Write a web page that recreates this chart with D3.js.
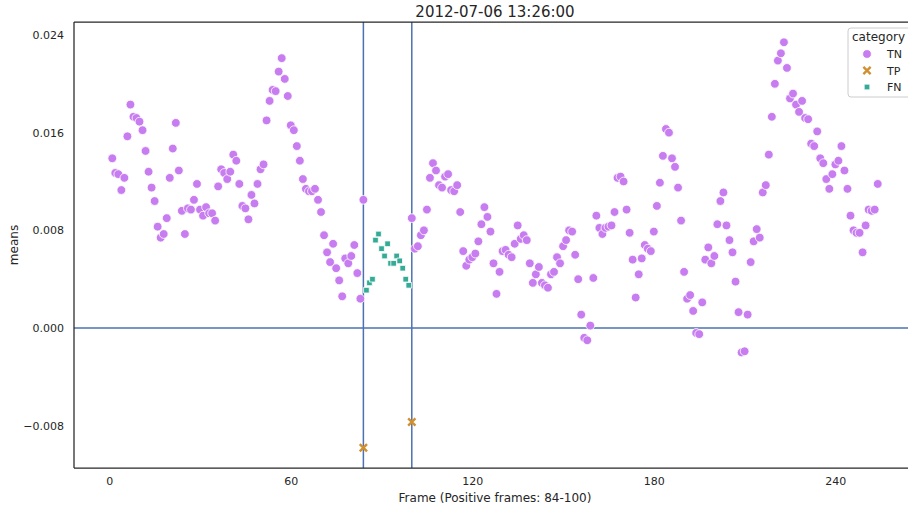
<!DOCTYPE html>
<html>
<head>
<meta charset="utf-8">
<script src="https://cdn.jsdelivr.net/npm/d3@7"></script>
<style>
  body { margin: 0; background: #fff; }
  text { font-family: "DejaVu Sans", sans-serif; fill: #262626; }
</style>
</head>
<body>
<div id="wrapper"></div>
<script>
// Chart data
const chartTitle = "2012-07-06 13:26:00";
const categories = ["TN", "TP", "FN"];
const positiveStart = 84;
const positiveEnd = 100;

// TN means, frames 1..84
const tnFirstFrames = 1;
const tnMeansA = [
  0.0139, 0.0127, 0.0126, 0.0113, 0.0123, 0.0157, 0.0183, 0.0173, 0.0172, 0.0169,
  0.0162, 0.0145, 0.0128, 0.0115, 0.0104, 0.0083, 0.0074, 0.0077, 0.0090, 0.0123,
  0.0147, 0.0168, 0.0129, 0.0096, 0.0077, 0.0098, 0.0097, 0.0105, 0.0118, 0.0097,
  0.0092, 0.0099, 0.0094, 0.0094, 0.0088, 0.0116, 0.0130, 0.0127, 0.0122, 0.0128,
  0.0142, 0.0137, 0.0118, 0.0100, 0.0098, 0.0089, 0.0109, 0.0102, 0.0118, 0.0130,
  0.0134, 0.0170, 0.0186, 0.0195, 0.0194, 0.0210, 0.0221, 0.0204, 0.0190, 0.0166,
  0.0162, 0.0149, 0.0137, 0.0122, 0.0114, 0.0112, 0.0112, 0.0114, 0.0105, 0.0095,
  0.0076, 0.0062, 0.0054, 0.0069, 0.0049, 0.0039, 0.0026, 0.0057, 0.0053, 0.0059,
  0.0068, 0.0045, 0.0024, 0.0105
];

// FN means, frames 85..99
const fnFirstFrame = 85;
const fnMeans = [
  0.0031, 0.0037, 0.0040, 0.0072, 0.0077, 0.0065, 0.0059, 0.0069, 0.0053, 0.0053,
  0.0059, 0.0055, 0.0049, 0.0040, 0.0035
];

// TN means, frames 100..254
const tnSecondFrames = 100;
const tnMeansB = [
  0.0090, 0.0065, 0.0067, 0.0076, 0.0080, 0.0097, 0.0123, 0.0135, 0.0129, 0.0117,
  0.0115, 0.0124, 0.0126, 0.0113, 0.0112, 0.0117, 0.0095, 0.0063, 0.0051, 0.0056,
  0.0058, 0.0061, 0.0071, 0.0085, 0.0099, 0.0091, 0.0079, 0.0053, 0.0028, 0.0046,
  0.0063, 0.0064, 0.0060, 0.0058, 0.0069, 0.0084, 0.0073, 0.0076, 0.0072, 0.0053,
  0.0037, 0.0044, 0.0050, 0.0037, 0.0035, 0.0033, 0.0044, 0.0046, 0.0058, 0.0053,
  0.0067, 0.0072, 0.0080, 0.0079, 0.0060, 0.0040, 0.0011, -0.0008, -0.0010, 0.0002,
  0.0041, 0.0092, 0.0082, 0.0077, 0.0082, 0.0083, 0.0084, 0.0095, 0.0123, 0.0124,
  0.0120, 0.0097, 0.0078, 0.0056, 0.0025, 0.0044, 0.0057, 0.0068, 0.0065, 0.0063,
  0.0079, 0.0100, 0.0119, 0.0141, 0.0163, 0.0160, 0.0139, 0.0132, 0.0115, 0.0088,
  0.0046, 0.0024, 0.0027, 0.0014, -0.0004, -0.0005, 0.0021, 0.0056, 0.0066, 0.0053,
  0.0059, 0.0085, 0.0104, 0.0111, 0.0084, 0.0072, 0.0062, 0.0038, 0.0013, -0.0020,
  -0.0019, 0.0011, 0.0054, 0.0071, 0.0081, 0.0074, 0.0111, 0.0117, 0.0142, 0.0173,
  0.0200, 0.0219, 0.0225, 0.0234, 0.0213, 0.0188, 0.0192, 0.0183, 0.0177, 0.0186,
  0.0172, 0.0171, 0.0151, 0.0149, 0.0161, 0.0139, 0.0135, 0.0122, 0.0114, 0.0126,
  0.0134, 0.0137, 0.0149, 0.0129, 0.0114, 0.0092, 0.0080, 0.0078, 0.0078, 0.0062,
  0.0084, 0.0097, 0.0096, 0.0097, 0.0118
];

// TP means at the two boundary frames
const tpFrames = [84, 100];
const tpMeans = [-0.0098, -0.0077];

const xTicks = [0, 60, 120, 180, 240];
const yTicks = [-0.008, 0, 0.008, 0.016, 0.024];

const colors = { TN: "#c77cf0", TP: "#d0902f", FN: "#35ab96" };

function drawChart() {
  // Build one flat table of points
  const data = [];
  tnMeansA.forEach((v, i) => data.push({ frame: tnFirstFrames + i, mean: v, category: "TN" }));
  tnMeansB.forEach((v, i) => data.push({ frame: tnSecondFrames + i, mean: v, category: "TN" }));
  fnMeans.forEach((v, i) => data.push({ frame: fnFirstFrame + i, mean: v, category: "FN" }));
  tpMeans.forEach((v, i) => data.push({ frame: tpFrames[i], mean: v, category: "TP" }));

  const frameAccessor = d => d.frame;
  const meanAccessor = d => d.mean;

  const dimensions = {
    width: 908,
    height: 511,
    margin: { top: 22, right: -8, bottom: 43, left: 74 },
  };
  dimensions.boundedWidth = dimensions.width - dimensions.margin.left - dimensions.margin.right;
  dimensions.boundedHeight = dimensions.height - dimensions.margin.top - dimensions.margin.bottom;

  const wrapper = d3.select("#wrapper")
    .append("svg")
    .attr("width", dimensions.width)
    .attr("height", dimensions.height)
    .style("display", "block");

  const bounds = wrapper.append("g")
    .attr("transform", `translate(${dimensions.margin.left}, ${dimensions.margin.top})`);

  // matplotlib-style 5% padding around the data
  const [xMin, xMax] = d3.extent(data, frameAccessor);
  const [yMin, yMax] = d3.extent(data, meanAccessor);
  const xPad = (xMax - xMin) * 0.05;
  const yPad = (yMax - yMin) * 0.05;

  const xScale = d3.scaleLinear()
    .domain([xMin - xPad, xMax + xPad])
    .range([0, dimensions.boundedWidth]);

  const yScale = d3.scaleLinear()
    .domain([yMin - yPad, yMax + yPad])
    .range([dimensions.boundedHeight, 0]);

  // Reference lines: zero and positive window edges
  const refColor = "#4c72b0";
  bounds.append("line")
    .attr("x1", 0).attr("x2", dimensions.boundedWidth)
    .attr("y1", yScale(0)).attr("y2", yScale(0))
    .attr("stroke", refColor).attr("stroke-width", 1.5);

  bounds.selectAll(".vline")
    .data([positiveStart, positiveEnd])
    .join("line")
    .attr("class", "vline")
    .attr("x1", d => xScale(d)).attr("x2", d => xScale(d))
    .attr("y1", 0).attr("y2", dimensions.boundedHeight)
    .attr("stroke", refColor).attr("stroke-width", 1.5);

  // Point markers
  const symbols = {
    TN: d3.symbol(d3.symbolCircle, 60),
    TP: d3.symbol(d3.symbolX, 36),
    FN: d3.symbol(d3.symbolSquare, 32),
  };

  const drawOrder = ["TN", "TP", "FN"];
  drawOrder.forEach(cat => {
    const pts = data.filter(d => d.category === cat);
    const g = bounds.append("g");
    if (cat === "TP") {
      g.selectAll("path")
        .data(pts)
        .join("path")
        .attr("transform", d => `translate(${xScale(frameAccessor(d))}, ${yScale(meanAccessor(d))})`)
        .attr("d", symbols[cat])
        .attr("fill", "none")
        .attr("stroke", colors[cat])
        .attr("stroke-width", 2.4);
    } else {
      g.selectAll("path")
        .data(pts)
        .join("path")
        .attr("transform", d => `translate(${xScale(frameAccessor(d))}, ${yScale(meanAccessor(d))})`)
        .attr("d", symbols[cat])
        .attr("fill", colors[cat])
        .attr("stroke", "#fff")
        .attr("stroke-width", 0.8);
    }
  });

  // Axes (no tick marks, seaborn "white" style)
  const yAxisGenerator = d3.axisLeft(yScale)
    .tickValues(yTicks)
    .tickFormat(d3.format(".3f"))
    .tickSize(0)
    .tickPadding(10);
  const yAxis = bounds.append("g").call(yAxisGenerator);

  const xAxisGenerator = d3.axisBottom(xScale)
    .tickValues(xTicks)
    .tickSize(0)
    .tickPadding(9);
  const xAxis = bounds.append("g")
    .attr("transform", `translate(0, ${dimensions.boundedHeight})`)
    .call(xAxisGenerator);

  [xAxis, yAxis].forEach(axis => {
    axis.select(".domain").remove();
    axis.selectAll("text")
      .style("font-size", "11px")
      .style("font-family", "DejaVu Sans, sans-serif")
      .attr("fill", "#262626");
  });

  // Spines: left, top, bottom (the right one falls outside the picture)
  const spine = "#262626";
  bounds.append("line")
    .attr("x1", 0).attr("x2", 0).attr("y1", 0).attr("y2", dimensions.boundedHeight)
    .attr("stroke", spine).attr("stroke-width", 1.25);
  bounds.append("line")
    .attr("x1", 0).attr("x2", dimensions.boundedWidth).attr("y1", 0).attr("y2", 0)
    .attr("stroke", spine).attr("stroke-width", 1.25);
  bounds.append("line")
    .attr("x1", 0).attr("x2", dimensions.boundedWidth)
    .attr("y1", dimensions.boundedHeight).attr("y2", dimensions.boundedHeight)
    .attr("stroke", spine).attr("stroke-width", 1.25);

  // Labels and title
  bounds.append("text")
    .attr("x", dimensions.boundedWidth / 2)
    .attr("y", dimensions.boundedHeight + 34)
    .attr("text-anchor", "middle")
    .style("font-size", "12px")
    .text("Frame (Positive frames: 84-100)");

  bounds.append("text")
    .attr("transform", `translate(${-56}, ${dimensions.boundedHeight / 2}) rotate(-90)`)
    .attr("text-anchor", "middle")
    .style("font-size", "12px")
    .text("means");

  bounds.append("text")
    .attr("x", dimensions.boundedWidth / 2)
    .attr("y", -5)
    .attr("text-anchor", "middle")
    .style("font-size", "15px")
    .text(chartTitle);

  // Legend
  const legend = bounds.append("g")
    .attr("transform", `translate(${dimensions.boundedWidth - 68}, 6)`);

  legend.append("rect")
    .attr("width", 66)
    .attr("height", 69)
    .attr("rx", 3)
    .attr("fill", "#fff")
    .attr("fill-opacity", 0.8)
    .attr("stroke", "#cccccc")
    .attr("stroke-width", 1);

  legend.append("text")
    .attr("x", 4)
    .attr("y", 13)
    .style("font-size", "12px")
    .text("category");

  categories.forEach((cat, i) => {
    const row = legend.append("g")
      .attr("transform", `translate(19, ${26 + i * 16.5})`);
    if (cat === "TP") {
      row.append("path")
        .attr("d", symbols[cat])
        .attr("fill", "none")
        .attr("stroke", colors[cat])
        .attr("stroke-width", 2.4);
    } else {
      row.append("path")
        .attr("d", symbols[cat])
        .attr("fill", colors[cat])
        .attr("stroke", "#fff")
        .attr("stroke-width", 0.8);
    }
    row.append("text")
      .attr("x", 20)
      .attr("y", 4)
      .style("font-size", "11px")
      .text(cat);
  });
}

drawChart();
</script>
</body>
</html>
